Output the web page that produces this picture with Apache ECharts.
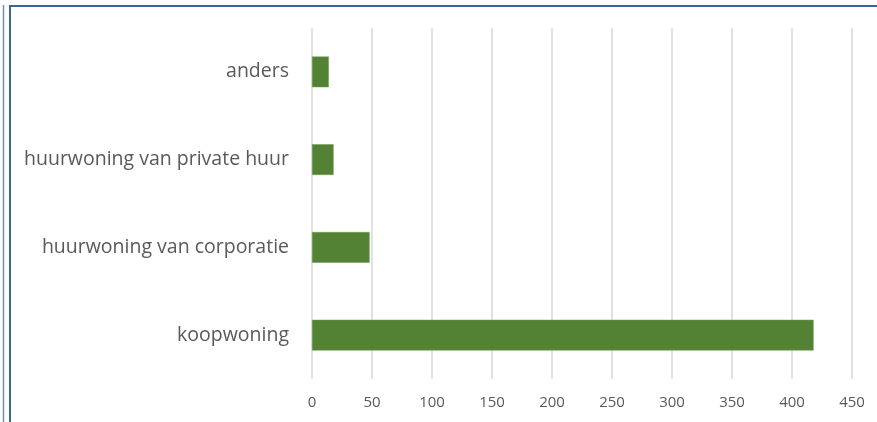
<!DOCTYPE html>
<html>
<head>
<meta charset="utf-8">
<script src="https://cdn.jsdelivr.net/npm/echarts@6/dist/echarts.min.js"></script>
<style>
html,body{margin:0;padding:0;background:#fff;}
#chart{width:877px;height:422px;}
</style>
</head>
<body>
<div id="chart"></div>
<script>
const categories = ['koopwoning', 'huurwoning van corporatie', 'huurwoning van private huur', 'anders'];
const values = [418, 48, 18, 14];
const xTicks = { min: 0, max: 450, interval: 50 };

const chart = echarts.init(document.getElementById('chart'), null, { renderer: 'canvas' });
const frameColor = '#3d6496';
chart.setOption({
  animation: false,
  backgroundColor: '#fff',
  grid: { left: 312, right: 25, top: 28, bottom: 43, containLabel: false },
  xAxis: {
    type: 'value',
    min: xTicks.min, max: xTicks.max, interval: xTicks.interval,
    axisLine: { show: false },
    axisTick: { show: false },
    axisLabel: { color: '#595959', fontSize: 15, fontFamily: 'Open Sans', margin: 16 },
    splitLine: { show: true, lineStyle: { color: '#d9d9d9', width: 1.5 } }
  },
  yAxis: {
    type: 'category',
    data: categories,
    axisLine: { show: false },
    axisTick: { show: false },
    axisLabel: { color: '#595959', fontSize: 19.5, fontFamily: 'Open Sans', margin: 23 }
  },
  series: [{
    type: 'bar',
    data: values,
    barWidth: '35%',
    itemStyle: { color: '#548235', borderColor: '#6b9a4c', borderWidth: 0.5 }
  }],
  graphic: [
    { type: 'line', shape: { x1: 3.5, y1: 5, x2: 3.5, y2: 422 }, style: { stroke: '#6f8fba', lineWidth: 1.5 } },
    { type: 'line', shape: { x1: 10, y1: 5, x2: 10, y2: 422 }, style: { stroke: frameColor, lineWidth: 2 } },
    { type: 'line', shape: { x1: 9, y1: 6, x2: 877, y2: 6 }, style: { stroke: frameColor, lineWidth: 2 } }
  ]
});
</script>
</body>
</html>
